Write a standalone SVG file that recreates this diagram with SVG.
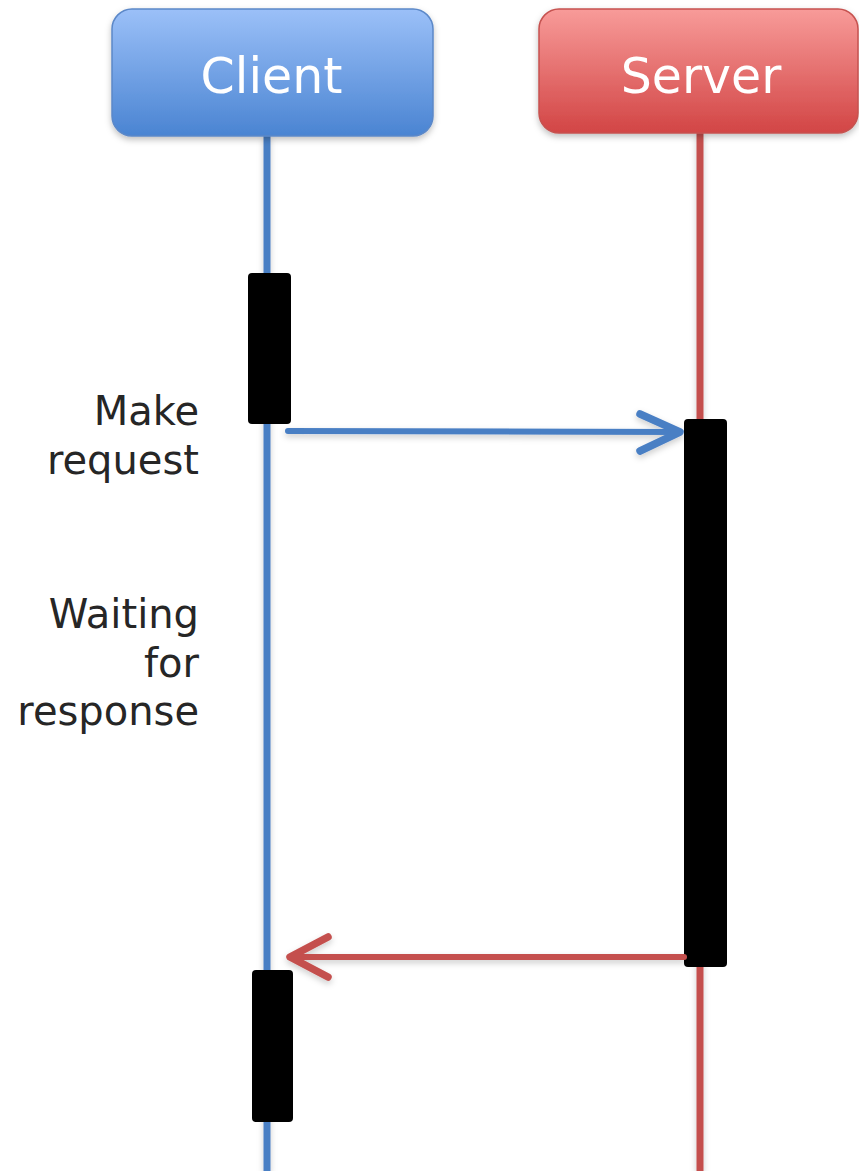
<svg xmlns="http://www.w3.org/2000/svg" width="859" height="1171" viewBox="0 0 859 1171">
  <defs>
    <linearGradient id="gradClient" x1="0" y1="0" x2="0" y2="1">
      <stop offset="0" stop-color="#9bc0f8"/>
      <stop offset="1" stop-color="#4a84d2"/>
    </linearGradient>
    <linearGradient id="gradServer" x1="0" y1="0" x2="0" y2="1">
      <stop offset="0" stop-color="#f89b99"/>
      <stop offset="1" stop-color="#d24545"/>
    </linearGradient>
    <filter id="shadow" x="-20%" y="-20%" width="140%" height="160%">
      <feDropShadow dx="0" dy="3" stdDeviation="3" flood-color="#000" flood-opacity="0.25"/>
    </filter>
    <filter id="softShadow" x="-10%" y="-10%" width="120%" height="120%">
      <feDropShadow dx="0" dy="3" stdDeviation="3" flood-color="#000" flood-opacity="0.2"/>
    </filter>
  </defs>
  <style>
    .head { font-family: "DejaVu Sans", Verdana, sans-serif; font-size: 49px; fill: #ffffff; text-anchor: middle; }
    .note { font-family: "DejaVu Sans", Verdana, sans-serif; font-size: 40px; fill: #262626; text-anchor: end; }
    .life { stroke-width: 7; fill: none; }
    .bar { fill: #000000; }
    .msg { fill: none; stroke-width: 6; stroke-linecap: round; stroke-linejoin: round; }
    .tip { fill: none; stroke-width: 7.5; stroke-linecap: round; stroke-linejoin: round; }
  </style>

  <rect width="859" height="1171" fill="#ffffff"/>

  <!-- lifelines -->
  <g id="lifelines" filter="url(#softShadow)">
    <line class="life" x1="267" y1="135" x2="267" y2="1171" stroke="#4a7fc4"/>
    <line class="life" x1="700" y1="132" x2="700" y2="1171" stroke="#c4504e"/>
  </g>

  <!-- participants -->
  <g id="client" filter="url(#shadow)">
    <rect x="112" y="9" width="321" height="127" rx="20" ry="20" fill="url(#gradClient)" stroke="#5b88c8" stroke-width="1.5"/>
    <text class="head" x="271.5" y="93">Client</text>
  </g>
  <g id="server" filter="url(#shadow)">
    <rect x="539" y="9" width="319" height="124" rx="20" ry="20" fill="url(#gradServer)" stroke="#c65250" stroke-width="1.5"/>
    <text class="head" x="701" y="93">Server</text>
  </g>

  <!-- activation bars -->
  <g id="client-activation-1">
    <rect class="bar" x="248" y="273" width="43" height="151" rx="4" ry="4"/>
  </g>
  <g id="server-activation">
    <rect class="bar" x="684" y="419" width="43" height="548" rx="4" ry="4"/>
  </g>
  <g id="client-activation-2">
    <rect class="bar" x="252" y="970" width="41" height="152" rx="4" ry="4"/>
  </g>

  <!-- messages -->
  <g id="connectors" filter="url(#softShadow)">
    <g id="request" stroke="#4a7fc4">
      <line class="msg" x1="288" y1="431" x2="680" y2="432"/>
      <polyline class="tip" points="640,414 680,432 640,451"/>
    </g>
    <g id="response" stroke="#c4504e">
      <line class="msg" x1="684" y1="957" x2="290" y2="957"/>
      <polyline class="tip" points="328,937 290,957 328,977"/>
    </g>
  </g>

  <!-- annotations -->
  <g id="label-request">
    <text class="note" x="199" y="425">Make</text>
    <text class="note" x="199" y="474">request</text>
  </g>
  <g id="label-waiting">
    <text class="note" x="199" y="628">Waiting</text>
    <text class="note" x="199" y="677">for</text>
    <text class="note" x="199" y="725">response</text>
  </g>
</svg>
